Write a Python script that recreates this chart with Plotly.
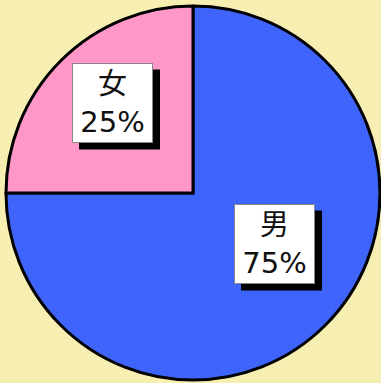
import plotly.graph_objects as go

# Gender breakdown
labels = ["男", "女"]
values = [75, 25]
colors = ["#3f64fb", "#ff98c9"]

# Label box centres (pixels from top-left) for each slice
label_px = {"男": (274.5, 243.5), "女": (112.5, 102.5)}

W, H = 381, 383
BOX_W, BOX_H = 79, 78   # inner box size; +1px border each side
SHADOW = 7
total = sum(values)

fig = go.Figure(go.Pie(
    labels=labels,
    values=values,
    sort=False,
    direction="clockwise",
    rotation=0,
    marker=dict(colors=colors, line=dict(color="black", width=3)),
    textinfo="none",
    hoverinfo="label+percent",
    showlegend=False,
    domain=dict(x=[6 / W, 380 / W], y=[3 / H, 377 / H]),
))

font = dict(family="DejaVu Sans, Noto Sans CJK JP, sans-serif", size=29,
            color="#111111", weight=400)
annotations, shapes = [], []
for lab, val in zip(labels, values):
    cx, cy = label_px[lab]
    half_w, half_h = BOX_W / 2 + 1, BOX_H / 2 + 1
    # drop shadow behind the label box
    shapes.append(dict(
        type="rect", xref="paper", yref="paper", layer="above",
        x0=(cx - half_w + SHADOW) / W, x1=(cx + half_w + SHADOW) / W,
        y0=1 - (cy + half_h + SHADOW) / H, y1=1 - (cy - half_h + SHADOW) / H,
        fillcolor="black", line=dict(width=0),
    ))
    annotations.append(dict(
        x=cx / W, y=1 - cy / H, xref="paper", yref="paper", showarrow=False,
        xanchor="center", yanchor="middle", width=BOX_W, height=BOX_H,
        borderpad=0, borderwidth=1, bordercolor="#888888", bgcolor="white",
        text=f"{lab}<br>{round(val / total * 100)}%", align="center", font=font,
    ))

fig.update_layout(
    width=W, height=H,
    margin=dict(l=0, r=0, t=0, b=0),
    paper_bgcolor="#f7efb2",
    plot_bgcolor="#f7efb2",
    annotations=annotations,
    shapes=shapes,
)

fig.write_html("out.html")
